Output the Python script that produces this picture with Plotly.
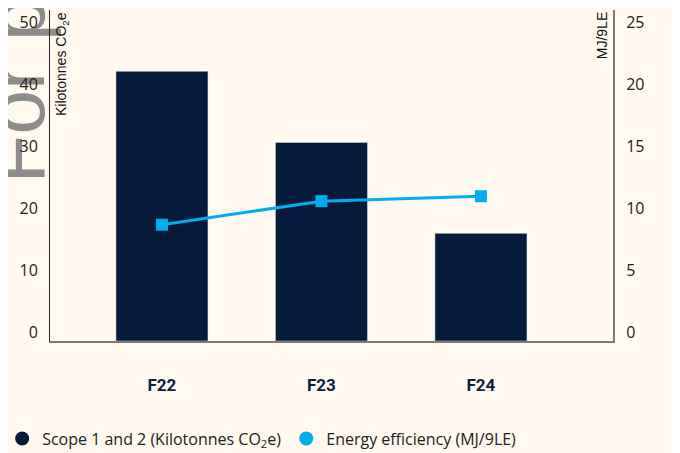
import plotly.graph_objects as go

categories = ["F22", "F23", "F24"]
scope_values = [43.6, 32.1, 17.4]
energy_values = [9.4, 11.3, 11.7]
left_ticks = [0, 10, 20, 30, 40, 50]
right_ticks = [0, 5, 10, 15, 20, 25]

NAVY = "#061A3B"
BLUE = "#00AEEF"
BG = "#FFF9EF"
TICKFONT = dict(family="Open Sans, Noto Sans, sans-serif", size=16, color="#222222")

fig = go.Figure()
fig.add_trace(go.Bar(x=categories, y=scope_values, marker_color=NAVY, width=0.577,
                     showlegend=False, yaxis="y"))
fig.add_trace(go.Scatter(x=categories, y=energy_values, mode="lines+markers",
                         line=dict(color=BLUE, width=3),
                         marker=dict(symbol="square", size=12, color=BLUE),
                         showlegend=False, yaxis="y2"))
# legend entries (circle symbols)
fig.add_trace(go.Scatter(x=[None], y=[None], mode="markers",
                         marker=dict(symbol="circle", size=14, color=NAVY),
                         name="Scope 1 and 2 (Kilotonnes CO<sub>2</sub>e)"))
fig.add_trace(go.Scatter(x=[None], y=[None], mode="markers",
                         marker=dict(symbol="circle", size=14, color=BLUE),
                         name="Energy efficiency (MJ/9LE)"))

# background watermark drawn below the tick labels
fig.add_shape(type="line", xref="paper", yref="paper",
              x0=-0.073, x1=-0.073, y0=0.758, y1=1.3,
              line=dict(width=0), layer="below",
              label=dict(text="For p", textposition="start", yanchor="middle",
                         font=dict(family="Liberation Sans, Arial, sans-serif",
                                   size=80, color="#8c8c8c")))

fig.update_layout(
    width=672, height=445,
    margin=dict(l=42, r=67, t=2, b=112, autoexpand=False),
    paper_bgcolor=BG, plot_bgcolor=BG,
    xaxis=dict(type="category", range=[-0.702, 2.828], showgrid=False, automargin=False,
               showline=True, linecolor="#7a7a7a", linewidth=2,
               ticks="", ticklabelstandoff=28,
               tickfont=dict(family="Roboto, sans-serif", size=17, color="#0B1F3F", weight="bold")),
    yaxis=dict(range=[0, 53.5], tickvals=left_ticks, showgrid=False, zeroline=False,
               automargin=False,
               showline=True, linecolor="#222222", linewidth=1, ticks="",
               ticklabelshift=-9, ticklabelstandoff=8, tickfont=TICKFONT),
    yaxis2=dict(range=[0, 26.75], tickvals=right_ticks, overlaying="y", side="right",
                automargin=False,
                showgrid=False, zeroline=False, showline=True, linecolor="#7a7a7a",
                linewidth=2, ticks="", ticklabelshift=-9, ticklabelstandoff=8,
                tickfont=TICKFONT),
    legend=dict(orientation="h", x=-0.085, y=-0.295, xanchor="left", yanchor="middle",
                font=dict(family="Open Sans, Noto Sans, sans-serif", size=16, color="#222222"),
                bgcolor="rgba(0,0,0,0)", itemwidth=30),
    annotations=[
        dict(text="Kilotonnes CO<sub>2</sub>e", textangle=-90, xref="paper", yref="paper",
             x=0.0213, y=1.0, xanchor="center", yanchor="top", showarrow=False,
             font=dict(family="Liberation Sans, Arial, sans-serif", size=14, color="#111111")),
        dict(text="MJ/9LE", textangle=-90, xref="paper", yref="paper",
             x=0.980, y=1.0, xanchor="center", yanchor="top", showarrow=False,
             font=dict(family="Liberation Sans, Arial, sans-serif", size=14, color="#111111")),
    ],
)

fig.write_html("out.html")
